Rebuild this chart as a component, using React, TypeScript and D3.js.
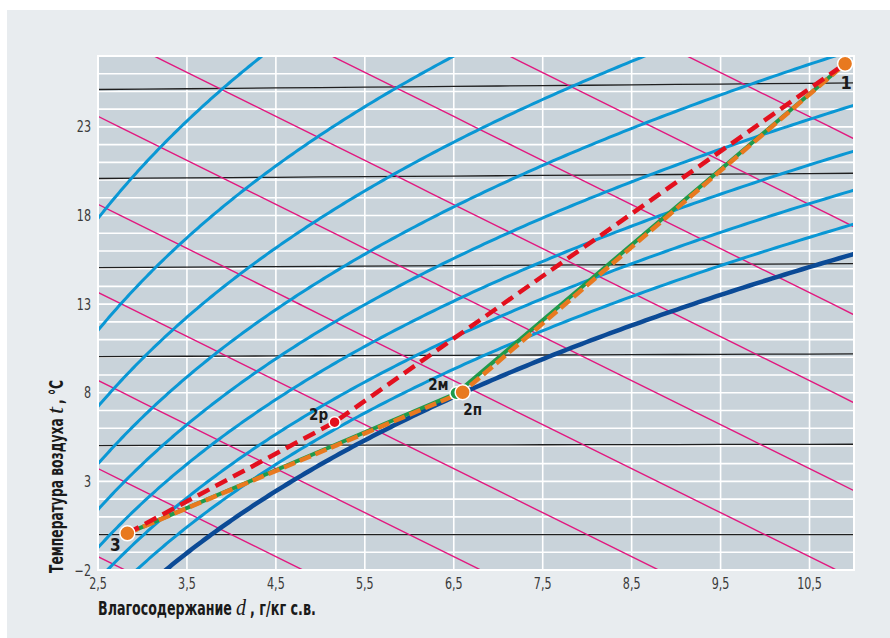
import React, { useLayoutEffect, useRef, useState } from 'react';
import * as d3 from 'd3';

// ---- axis ticks ----
const xTicks = [2.5, 3.5, 4.5, 5.5, 6.5, 7.5, 8.5, 9.5, 10.5];
const yTicks = [-2, 3, 8, 13, 18, 23];
const gridT = d3.range(-2, 28, 1); // white gridlines every 1 °C

// ---- psychrometric background families ----
const isotherms = [0, 5, 10, 15, 20, 25];
const enthalpies = [5, 10, 15, 20, 25, 30, 35, 40, 45, 50, 55];
const rhLevels = [20, 30, 40, 50, 60, 70, 80, 90];
const saturationLevel = 100;

// ---- process points ----
const pointNames = ['3', '2р', '2м', '2п', '1'];
const pointD = [2.83, 5.16, 6.53, 6.6, 10.9];
const pointT = [0.07, 6.34, 7.97, 8.03, 26.56];

const W = 890;
const H = 638;
const L = 98, R = 854, T = 56, B = 570;

const x = d3.scaleLinear().domain([2.5, 11]).range([L, R]);
const y = d3.scaleLinear().domain([-2, 27]).range([B, T]);

const P = 101.325;
const K = 0.00175; // slight skew of isotherms in the chart
const ps = (t: number) => 0.6112 * Math.exp((17.62 * t) / (243.12 + t));
const chartT = (t: number, d: number) => t * (1 + K * d);

const line = d3.line<[number, number]>().x((p) => x(p[0])).y((p) => y(p[1]));

function rhPath(phi: number) {
  const f = phi / 100;
  const pts: [number, number][] = d3.range(-6, 32, 0.1).map((t) => {
    const pv = f * ps(t);
    const d = (622 * pv) / (P - pv);
    return [d, chartT(t, d)];
  });
  return line(pts) || '';
}
function enthalpyPath(i: number) {
  const pts: [number, number][] = d3.range(1.5, 12, 0.25).map((d) => {
    const t = (i - 2.501 * d) / (1.006 + 0.00186 * d);
    return [d, chartT(t, d)];
  });
  return line(pts) || '';
}
function isothermPath(t: number) {
  const pts: [number, number][] = d3.range(2, 11.6, 0.5).map((d) => [d, chartT(t, d)]);
  return line(pts) || '';
}

const pts = pointNames.map((n, i) => ({ name: n, d: pointD[i], t: pointT[i] }));
const byName = (n: string) => pts.find((p) => p.name === n)!;
const procPath = (names: string[]) =>
  line(names.map((n) => [byName(n).d, byName(n).t] as [number, number])) || '';

const tickFont = "'Liberation Sans Narrow', 'DejaVu Sans Condensed', sans-serif";
const boldFont = "'Liberation Sans Narrow', 'DejaVu Sans Condensed', sans-serif";
const serifFont = "'Liberation Serif', 'DejaVu Serif', serif";

const labelPos: Record<string, { dx: number; dy: number; size: number }> = {
  '3': { dx: -12, dy: 12, size: 17 },
  '2р': { dx: -16, dy: -7, size: 15 },
  '2м': { dx: -18, dy: -8, size: 15 },
  '2п': { dx: 10, dy: 18, size: 15 },
  '1': { dx: 1, dy: 19, size: 18 },
};

// text squeezed horizontally to a target width (via a real transform)
function FitText(props: {
  x: number; y: number; width: number; size: number; family: string;
  weight?: string; italic?: boolean; children: string;
}) {
  const ref = useRef<SVGTextElement>(null);
  const [sx, setSx] = useState(1);
  useLayoutEffect(() => {
    if (ref.current) {
      const w = ref.current.getComputedTextLength();
      if (w > 0) setSx(props.width / w);
    }
  }, [props.width, props.children]);
  return (
    <text
      ref={ref}
      transform={`translate(${props.x},${props.y}) scale(${sx},1)`}
      fontFamily={props.family}
      fontWeight={props.weight || 'normal'}
      fontStyle={props.italic ? 'italic' : 'normal'}
      fontSize={props.size}
    >
      {props.children}
    </text>
  );
}

export default function App() {
  return (
    <svg width={W} height={H} style={{ position: 'absolute', left: 0, top: 0 }}>
      <rect x={7} y={10} width={W - 7} height={H - 10} fill="#e8ecef" />
      <defs>
        <clipPath id="plot">
          <rect x={L} y={T} width={R - L} height={B - T} />
        </clipPath>
      </defs>
      <rect x={L} y={T} width={R - L} height={B - T} fill="#c9d3da" />
      <g clipPath="url(#plot)">
        {gridT.map((t) => (
          <line key={'gh' + t} x1={L} x2={R} y1={y(t)} y2={y(t)} stroke="#ffffff" strokeWidth={1.6} />
        ))}
        {xTicks.map((d) => (
          <line key={'gv' + d} x1={x(d)} x2={x(d)} y1={T} y2={B} stroke="#ffffff" strokeWidth={1.6} />
        ))}
        {isotherms.map((t) => (
          <path key={'it' + t} d={isothermPath(t)} fill="none" stroke="#1f1f1f" strokeWidth={1.3} />
        ))}
        {enthalpies.map((i) => (
          <path key={'en' + i} d={enthalpyPath(i)} fill="none" stroke="#e2187f" strokeWidth={1.4} />
        ))}
        {rhLevels.map((phi) => (
          <path key={'rh' + phi} d={rhPath(phi)} fill="none" stroke="#0a97d4" strokeWidth={3} />
        ))}
        <path d={rhPath(saturationLevel)} fill="none" stroke="#0b4a96" strokeWidth={4.5} />
      </g>
      <rect x={L} y={T} width={R - L} height={B - T} fill="none" stroke="#ffffff" strokeWidth={2} />

      {/* process lines */}
      <path d={procPath(['3', '2м', '1'])} fill="none" stroke="#1f9a4b" strokeWidth={4} />
      <path d={procPath(['3', '2п', '1'])} fill="none" stroke="#e8791f" strokeWidth={4.5} strokeDasharray="12 5" />
      <path d={procPath(['3', '2р', '1'])} fill="none" stroke="#e3101e" strokeWidth={4.5} strokeDasharray="13 7" />

      {/* points */}
      <circle cx={x(byName('2м').d)} cy={y(byName('2м').t)} r={6.5} fill="#1f9a4b" stroke="#fff" strokeWidth={1.5} />
      <circle cx={x(byName('2п').d)} cy={y(byName('2п').t)} r={7.5} fill="#e8791f" stroke="#fff" strokeWidth={1.5} />
      <circle cx={x(byName('2р').d)} cy={y(byName('2р').t)} r={5.5} fill="#e3101e" stroke="#fff" strokeWidth={1.5} />
      <circle cx={x(byName('3').d)} cy={y(byName('3').t)} r={7.5} fill="#e8791f" stroke="#fff" strokeWidth={1.5} />
      <circle cx={x(byName('1').d)} cy={y(byName('1').t)} r={7.5} fill="#e8791f" stroke="#fff" strokeWidth={1.5} />
      {pts.map((p) => {
        const lp = labelPos[p.name];
        return (
          <text
            key={'lb' + p.name}
            x={x(p.d) + lp.dx}
            y={y(p.t) + lp.dy}
            textAnchor="middle"
            dominantBaseline="central"
            fontFamily={boldFont}
            fontWeight="bold"
            fontSize={lp.size}
            fill="#1a1a1a"
          >
            {p.name}
          </text>
        );
      })}

      {/* tick labels */}
      {xTicks.map((d) => (
        <text
          key={'xt' + d}
          transform={`translate(${x(d)},589) scale(0.8,1)`}
          textAnchor="middle"
          fontFamily={tickFont}
          fontSize={15.5}
          fill="#3a3a3a"
        >
          {String(d).replace('.', ',')}
        </text>
      ))}
      {yTicks.map((t) => (
        <text
          key={'yt' + t}
          transform={`translate(91,${y(t)}) scale(0.8,1)`}
          textAnchor="end"
          dominantBaseline="central"
          fontFamily={tickFont}
          fontSize={15.5}
          fill="#3a3a3a"
        >
          {t < 0 ? '−' + Math.abs(t) : String(t)}
        </text>
      ))}

      {/* x axis title */}
      <g fill="#1a1a1a">
        <FitText x={98} y={615} width={134} size={19.5} family={boldFont} weight="bold">Влагосодержание</FitText>
        <FitText x={236} y={615} width={10} size={23} family={serifFont} italic>d</FitText>
        <FitText x={250} y={615} width={66} size={19.5} family={boldFont} weight="bold">, г/кг с.в.</FitText>
      </g>
      {/* y axis title */}
      <g fill="#1a1a1a" transform="translate(63,0) rotate(-90)">
        <FitText x={-573} y={0} width={155} size={19.5} family={boldFont} weight="bold">Температура воздуха</FitText>
        <FitText x={-414} y={0} width={7} size={23} family={serifFont} italic>t</FitText>
        <FitText x={-404} y={0} width={24} size={19.5} family={boldFont} weight="bold">, °C</FitText>
      </g>
    </svg>
  );
}
